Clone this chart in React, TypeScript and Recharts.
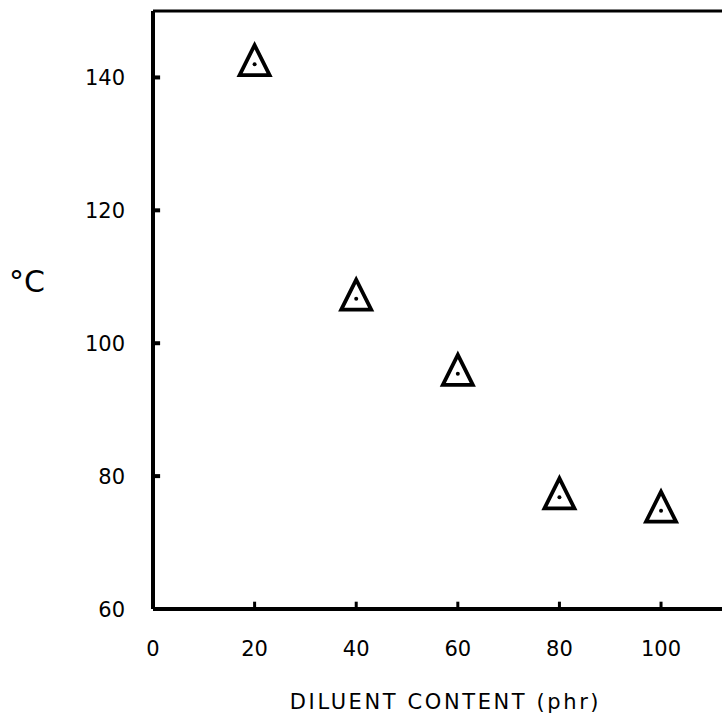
import {
  Label,
  ReferenceLine,
  Scatter,
  ScatterChart,
  XAxis,
  YAxis,
} from "recharts";

const diluent = [20, 40, 60, 80, 100];
const temperature = [142, 106.7, 95.4, 76.8, 74.8];
const xTicks = [0, 20, 40, 60, 80, 100];
const yTicks = [60, 80, 100, 120, 140];

const data = diluent.map((x, i) => ({ x, y: temperature[i] }));

const font = "'DejaVu Sans', sans-serif";

function Triangle(props: any) {
  const { cx, cy } = props;
  if (cx == null || cy == null) return null;
  const pts = `${cx},${cy - 19} ${cx - 15},${cy + 11} ${cx + 15},${cy + 11}`;
  return (
    <g>
      <polygon points={pts} fill="#fff" stroke="#000" strokeWidth={3.8} strokeLinejoin="miter" />
      <circle cx={cx} cy={cy} r={2} fill="#000" />
    </g>
  );
}

// tick labels drawn by hand so the gap to the axis is exact
function YTick(props: any) {
  const { x, y, payload } = props;
  return (
    <text x={x - 28} y={y} dy="0.36em" textAnchor="end" fontSize={21} fontFamily={font} fill="#000">
      {payload.value}
    </text>
  );
}

function XTick(props: any) {
  const { x, y, payload } = props;
  return (
    <text x={x} y={y + 39} dy="0.36em" textAnchor="middle" fontSize={21} fontFamily={font} fill="#000">
      {payload.value}
    </text>
  );
}

export default function App() {
  return (
    <div style={{ position: "fixed", left: 0, top: 0, background: "#fff" }}>
      <ScatterChart
        width={722}
        height={721}
        margin={{ top: 11, right: 0, bottom: 52, left: 0 }}
      >
        <XAxis
          type="number"
          dataKey="x"
          domain={[0, 112]}
          ticks={xTicks}
          allowDataOverflow
          axisLine={{ stroke: "#000", strokeWidth: 4 }}
          tickLine={false}
          tickSize={0}
          tickMargin={0}
          height={60}
          tick={<XTick />}
        >
          <Label
            value="DILUENT CONTENT (phr)"
            position="bottom"
            offset={25}
            dx={8}
            style={{ fill: "#000", fontSize: 21, fontFamily: font, letterSpacing: 2.6 }}
          />
        </XAxis>
        <YAxis
          type="number"
          dataKey="y"
          domain={[60, 150]}
          ticks={yTicks}
          allowDataOverflow
          width={153}
          axisLine={{ stroke: "#000", strokeWidth: 4 }}
          tickLine={false}
          tickSize={0}
          tickMargin={0}
          tick={<YTick />}
        >
          <Label
            value="°C"
            position="insideLeft"
            offset={9}
            dy={-29}
            style={{ fill: "#000", fontSize: 30, fontFamily: font }}
          />
        </YAxis>
        <ReferenceLine y={150} stroke="#000" strokeWidth={3} ifOverflow="extendDomain" />
        {yTicks.slice(1).map((t) => (
          <ReferenceLine
            key={`y${t}`}
            segment={[{ x: 0, y: t }, { x: 1.4, y: t }]}
            stroke="#000"
            strokeWidth={4}
          />
        ))}
        {xTicks.slice(1).map((t) => (
          <ReferenceLine
            key={`x${t}`}
            segment={[{ x: t, y: 60 }, { x: t, y: 61.1 }]}
            stroke="#000"
            strokeWidth={3}
          />
        ))}
        <Scatter data={data} shape={Triangle} isAnimationActive={false} />
      </ScatterChart>
    </div>
  );
}
